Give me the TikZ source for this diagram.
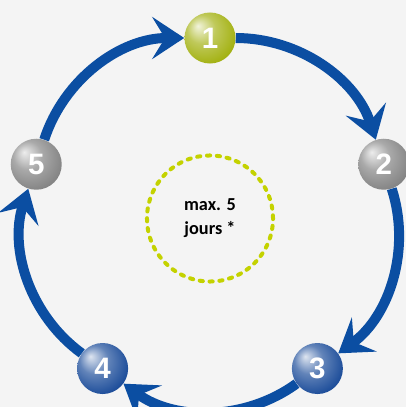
\documentclass[tikz,border=0pt]{standalone}
\usepackage{fontspec}
\setsansfont{Liberation Sans}
\newfontfamily\notefont{Carlito}
\usetikzlibrary{positioning, arrows.meta}
\definecolor{bgGray}{HTML}{F4F4F4}
\definecolor{cycleBlue}{HTML}{0B4EA2}
\definecolor{limeGreen}{HTML}{A4B214}
\definecolor{ringGreen}{HTML}{C4D200}
\definecolor{stepGray}{HTML}{858585}
\definecolor{stepBlue}{HTML}{1F4F9B}
\colorlet{ballc}{gray}
\pgfdeclareradialshading[ballc]{softball}{\pgfpoint{-12bp}{12bp}}{%
  color(0bp)=(ballc!15!white); color(14bp)=(ballc!70!white);
  color(30bp)=(ballc); color(44bp)=(ballc!75!black); color(50bp)=(ballc!60!black)}

\begin{document}
\begin{tikzpicture}[
  x=0.025cm, y=0.025cm,
  stepball/.style={circle, minimum size=1.275cm, inner sep=0pt, shading=softball,
                   /utils/exec={\colorlet{ballc}{#1}}, text=white,
                   font=\sffamily\bfseries\fontsize{21}{21}\selectfont},
  cyclearrow/.style={-{Stealth[length=0.8cm, width=1.05cm, inset=0.32cm]},
                     line width=0.25cm, draw=cycleBlue, bend left=36, looseness=0.94},
  ring/.style={circle, draw=ringGreen, line width=0.1cm, line cap=round,
               dash pattern=on 0.08cm off 0.167cm, minimum size=3.15cm, align=center,
               font=\notefont\bfseries\fontsize{13}{17}\selectfont}
]
\fill[bgGray] (-210,-186.3) rectangle (196,220.7);
\useasboundingbox (-210,-186.3) rectangle (196,220.7);

\node[ring] (limit) at (0,2.2) {max. 5\\jours *};

\node[stepball=limeGreen] (s1) at (90:182.7) {1};
\node[stepball=stepGray]  (s2) at (18:182.7) {2};
\node[stepball=stepBlue]  (s3) at (-54:182.7) {3};
\node[stepball=stepBlue]  (s4) at (-126:182.7) {4};
\node[stepball=stepGray]  (s5) at (162:182.7) {5};

\foreach \a/\b in {s1/s2, s2/s3, s3/s4, s4/s5, s5/s1}
  \draw[cyclearrow] (\a) to (\b);
\end{tikzpicture}
\end{document}
